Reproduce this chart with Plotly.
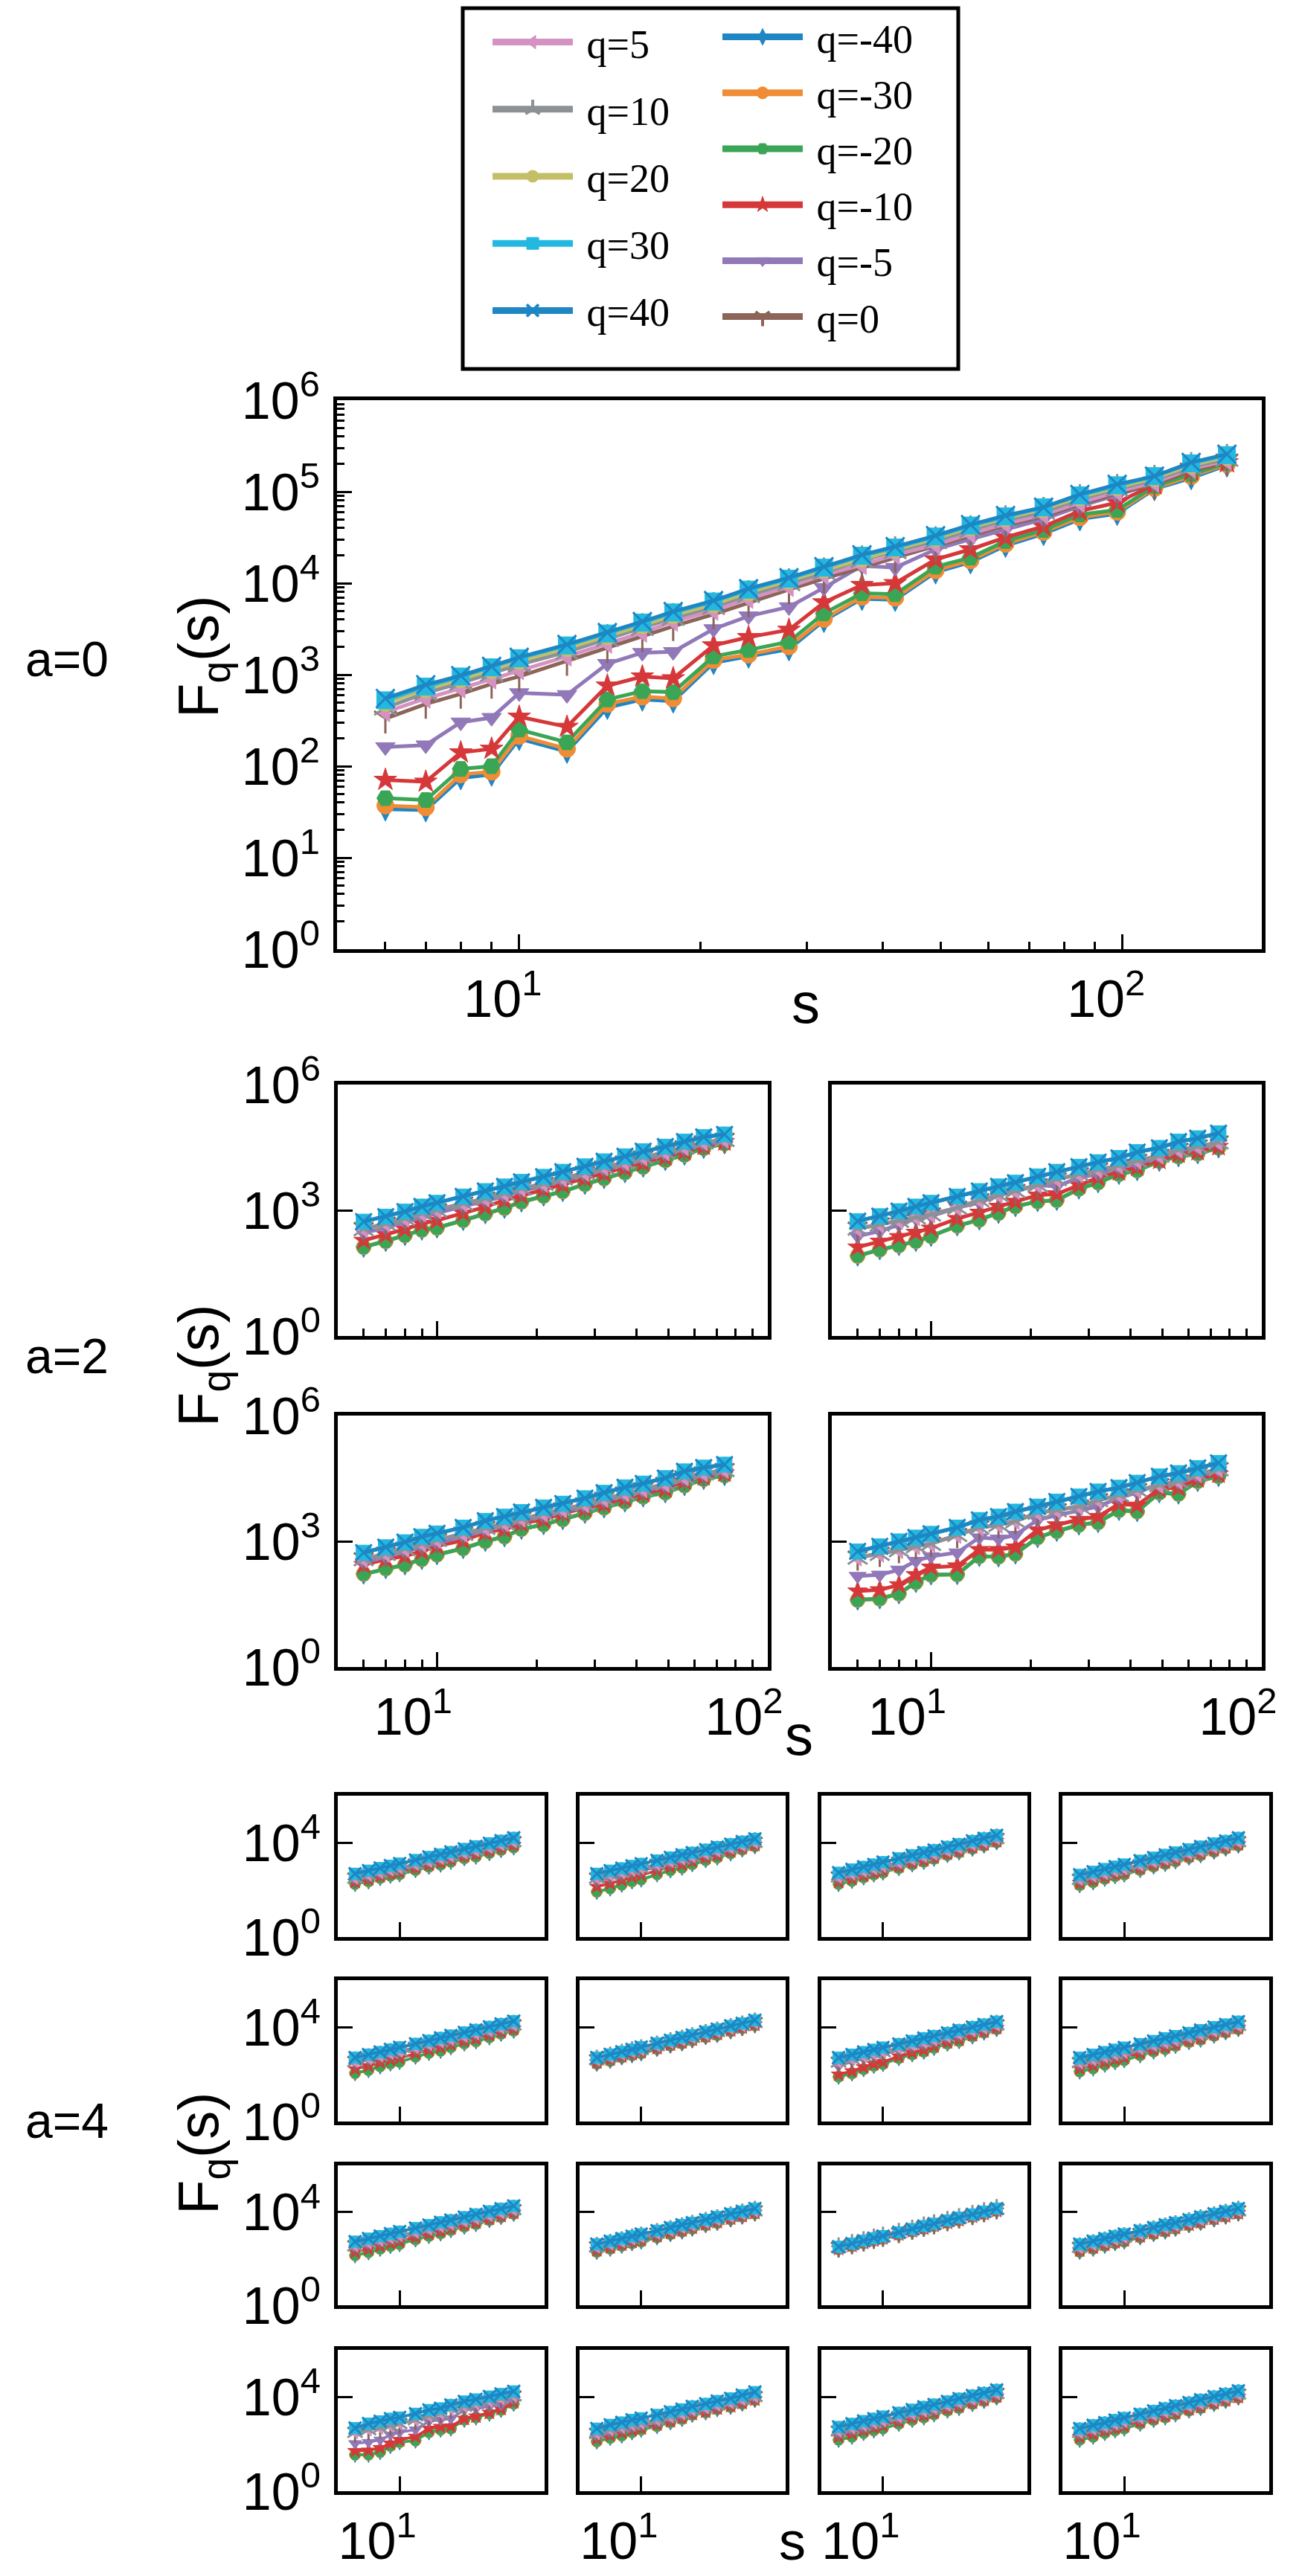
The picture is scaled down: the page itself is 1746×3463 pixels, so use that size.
import plotly.graph_objects as go

W, H = 1746, 3463

Q = [-40, -30, -20, -10, -5, 0, 5, 10, 20, 30, 40]
COLOR = {-40: "#1f86c4", -30: "#f08c35", -20: "#3aa655", -10: "#d6383a", -5: "#9178b9",
         0: "#8c6458", 5: "#d492c2", 10: "#8c9196", 20: "#c4bf66", 30: "#22b8e0", 40: "#1f86c4"}
SYMBOL = {-40: "diamond-tall", -30: "circle", -20: "hexagon2", -10: "star", -5: "triangle-down",
          0: "y-down", 5: "triangle-left", 10: "y-up", 20: "circle", 30: "square", 40: "x-thin"}
LINE_SYMBOLS = {"y-down", "y-up", "x-thin"}

# scale s (shared by all panels, the small ones stop earlier)
S = [6, 7, 8, 9, 10, 12, 14, 16, 18, 21, 24, 28, 32, 37, 42, 49, 56, 64, 74, 85, 98, 113, 130, 149]
S_A2 = S[:19]
S_A4 = S[:14]

# ---- a=0, log10 F_q(s) ----
A0_Q40 = [2.74, 2.89, 2.99, 3.09, 3.19, 3.33, 3.46, 3.58, 3.69, 3.81, 3.94, 4.06, 4.18, 4.31, 4.40, 4.52, 4.64, 4.74, 4.83, 4.97, 5.08, 5.17, 5.32, 5.41]
A0_Q30 = [2.72, 2.87, 2.98, 3.08, 3.18, 3.32, 3.45, 3.57, 3.68, 3.80, 3.93, 4.05, 4.17, 4.30, 4.39, 4.51, 4.63, 4.73, 4.83, 4.96, 5.07, 5.17, 5.31, 5.40]
A0_Q20 = [2.69, 2.84, 2.95, 3.05, 3.15, 3.29, 3.42, 3.54, 3.65, 3.77, 3.90, 4.03, 4.15, 4.27, 4.37, 4.49, 4.61, 4.71, 4.81, 4.94, 5.05, 5.15, 5.29, 5.38]
A0_Q10 = [2.64, 2.80, 2.91, 3.01, 3.11, 3.25, 3.39, 3.51, 3.62, 3.74, 3.87, 4.00, 4.12, 4.25, 4.35, 4.46, 4.58, 4.69, 4.78, 4.92, 5.03, 5.13, 5.27, 5.36]
A0_Q5 = [2.59, 2.74, 2.85, 2.95, 3.05, 3.20, 3.34, 3.46, 3.58, 3.70, 3.83, 3.96, 4.09, 4.20, 4.31, 4.42, 4.54, 4.65, 4.75, 4.88, 5.00, 5.10, 5.25, 5.34]
A0_Q0 = [2.52, 2.68, 2.79, 2.90, 2.98, 3.15, 3.29, 3.41, 3.53, 3.66, 3.79, 3.93, 4.05, 4.17, 4.28, 4.40, 4.52, 4.63, 4.73, 4.86, 4.98, 5.08, 5.23, 5.33]
A0_QM5 = [2.21, 2.23, 2.48, 2.53, 2.80, 2.78, 3.12, 3.24, 3.25, 3.50, 3.64, 3.74, 3.95, 4.19, 4.17, 4.37, 4.48, 4.59, 4.70, 4.84, 4.96, 5.09, 5.25, 5.34]
A0_QM10 = [1.85, 1.83, 2.15, 2.19, 2.54, 2.43, 2.88, 2.98, 2.96, 3.32, 3.41, 3.49, 3.79, 3.98, 4.00, 4.26, 4.37, 4.50, 4.62, 4.79, 4.88, 5.08, 5.23, 5.32]
A0_QM20 = [1.65, 1.63, 1.97, 2.00, 2.40, 2.26, 2.73, 2.82, 2.81, 3.20, 3.27, 3.36, 3.67, 3.89, 3.88, 4.18, 4.28, 4.46, 4.58, 4.75, 4.80, 5.06, 5.19, 5.31]
A0_QM30 = [1.57, 1.55, 1.91, 1.94, 2.33, 2.19, 2.68, 2.76, 2.74, 3.16, 3.22, 3.31, 3.61, 3.85, 3.84, 4.14, 4.25, 4.43, 4.56, 4.72, 4.78, 5.04, 5.17, 5.30]
A0_QM40 = [1.53, 1.52, 1.87, 1.91, 2.30, 2.16, 2.64, 2.73, 2.71, 3.13, 3.20, 3.28, 3.59, 3.83, 3.82, 4.12, 4.23, 4.41, 4.54, 4.70, 4.76, 5.03, 5.15, 5.29]

# ---- a=2, rows: q=20..40 / q=0..10 / q=-5 / q=-10 / q=-20..-40 ----
A2_TL = [
    [2.73, 2.85, 2.97, 3.09, 3.18, 3.33, 3.46, 3.57, 3.68, 3.80, 3.92, 4.05, 4.17, 4.29, 4.41, 4.52, 4.64, 4.75, 4.81],
    [2.55, 2.68, 2.80, 2.92, 3.00, 3.16, 3.28, 3.40, 3.52, 3.63, 3.76, 3.89, 4.02, 4.14, 4.26, 4.38, 4.50, 4.62, 4.68],
    [2.46, 2.58, 2.72, 2.84, 2.93, 3.09, 3.22, 3.33, 3.46, 3.58, 3.70, 3.84, 3.96, 4.08, 4.21, 4.33, 4.45, 4.57, 4.64],
    [2.28, 2.42, 2.55, 2.68, 2.76, 2.93, 3.08, 3.24, 3.35, 3.50, 3.61, 3.76, 3.88, 4.01, 4.13, 4.27, 4.40, 4.53, 4.63],
    [2.12, 2.26, 2.40, 2.53, 2.58, 2.76, 2.92, 3.05, 3.20, 3.34, 3.45, 3.62, 3.76, 3.90, 4.03, 4.19, 4.32, 4.48, 4.59],
]
A2_TR = [
    [2.74, 2.86, 2.98, 3.09, 3.18, 3.33, 3.46, 3.57, 3.66, 3.81, 3.92, 4.04, 4.15, 4.25, 4.39, 4.49, 4.64, 4.72, 4.84],
    [2.56, 2.66, 2.75, 2.83, 2.90, 3.06, 3.24, 3.36, 3.46, 3.60, 3.74, 3.86, 3.97, 4.06, 4.18, 4.30, 4.44, 4.52, 4.62],
    [2.38, 2.50, 2.65, 2.80, 2.86, 3.06, 3.18, 3.36, 3.45, 3.60, 3.57, 3.78, 3.86, 4.01, 4.10, 4.28, 4.43, 4.49, 4.61],
    [2.12, 2.26, 2.37, 2.47, 2.57, 2.80, 2.95, 3.09, 3.21, 3.36, 3.39, 3.60, 3.78, 3.92, 4.03, 4.19, 4.34, 4.40, 4.52],
    [1.91, 2.06, 2.16, 2.26, 2.38, 2.63, 2.77, 2.93, 3.09, 3.21, 3.24, 3.51, 3.66, 3.86, 3.95, 4.17, 4.28, 4.35, 4.49],
]
A2_BL = [
    [2.73, 2.86, 2.98, 3.11, 3.19, 3.33, 3.49, 3.59, 3.70, 3.81, 3.90, 4.03, 4.16, 4.29, 4.38, 4.51, 4.67, 4.76, 4.83],
    [2.57, 2.70, 2.82, 2.94, 3.03, 3.18, 3.32, 3.43, 3.54, 3.66, 3.76, 3.88, 4.01, 4.14, 4.24, 4.37, 4.52, 4.62, 4.70],
    [2.50, 2.62, 2.75, 2.87, 2.95, 3.12, 3.26, 3.37, 3.48, 3.60, 3.70, 3.83, 3.96, 4.09, 4.19, 4.32, 4.48, 4.58, 4.66],
    [2.44, 2.57, 2.65, 2.76, 2.89, 3.02, 3.21, 3.29, 3.43, 3.52, 3.67, 3.78, 3.89, 4.03, 4.14, 4.25, 4.44, 4.54, 4.63],
    [2.22, 2.35, 2.44, 2.57, 2.68, 2.83, 3.00, 3.11, 3.29, 3.40, 3.52, 3.67, 3.80, 3.94, 4.06, 4.16, 4.33, 4.48, 4.57],
]
A2_BR = [
    [2.76, 2.88, 3.00, 3.09, 3.18, 3.33, 3.51, 3.59, 3.71, 3.83, 3.95, 4.07, 4.19, 4.28, 4.40, 4.55, 4.63, 4.75, 4.87],
    [2.61, 2.70, 2.79, 2.88, 2.94, 3.15, 3.33, 3.39, 3.48, 3.68, 3.74, 3.83, 3.98, 4.10, 4.22, 4.34, 4.43, 4.60, 4.72],
    [2.17, 2.20, 2.32, 2.53, 2.64, 2.73, 3.09, 3.06, 3.15, 3.51, 3.62, 3.74, 3.83, 4.04, 4.16, 4.37, 4.40, 4.55, 4.69],
    [1.81, 1.84, 1.96, 2.20, 2.38, 2.41, 2.80, 2.80, 2.86, 3.27, 3.39, 3.52, 3.59, 3.89, 3.86, 4.25, 4.28, 4.49, 4.60],
    [1.60, 1.63, 1.75, 2.02, 2.20, 2.21, 2.64, 2.63, 2.70, 3.09, 3.24, 3.39, 3.45, 3.74, 3.71, 4.16, 4.13, 4.43, 4.55],
]

# ---- a=4, same row layout, 4x4 panels ----
A4_R1C1 = [
    [2.69, 2.82, 2.93, 3.03, 3.12, 3.27, 3.40, 3.51, 3.61, 3.74, 3.85, 3.98, 4.09, 4.21],
    [2.50, 2.63, 2.74, 2.85, 2.94, 3.09, 3.22, 3.34, 3.44, 3.57, 3.68, 3.81, 3.93, 4.05],
    [2.42, 2.55, 2.67, 2.77, 2.86, 3.02, 3.16, 3.27, 3.37, 3.51, 3.62, 3.76, 3.87, 4.00],
    [2.35, 2.46, 2.60, 2.71, 2.77, 2.95, 3.09, 3.18, 3.30, 3.45, 3.53, 3.68, 3.80, 3.92],
    [2.25, 2.36, 2.50, 2.60, 2.66, 2.84, 2.98, 3.07, 3.19, 3.34, 3.41, 3.56, 3.69, 3.80],
]
A4_R1C2 = [
    [2.69, 2.82, 2.92, 3.02, 3.11, 3.25, 3.38, 3.49, 3.58, 3.71, 3.82, 3.94, 4.05, 4.17],
    [2.50, 2.63, 2.74, 2.84, 2.93, 3.08, 3.21, 3.32, 3.42, 3.55, 3.66, 3.79, 3.90, 4.02],
    [2.36, 2.50, 2.60, 2.73, 2.82, 2.96, 3.12, 3.23, 3.32, 3.48, 3.59, 3.71, 3.85, 3.98],
    [2.14, 2.27, 2.42, 2.55, 2.63, 2.82, 2.98, 3.08, 3.22, 3.38, 3.48, 3.65, 3.79, 3.92],
    [1.92, 2.06, 2.22, 2.36, 2.44, 2.66, 2.83, 2.94, 3.09, 3.26, 3.37, 3.55, 3.71, 3.85],
]
A4_R1C3 = [
    [2.73, 2.87, 2.98, 3.08, 3.18, 3.34, 3.47, 3.59, 3.69, 3.83, 3.94, 4.08, 4.19, 4.32],
    [2.55, 2.69, 2.81, 2.91, 3.01, 3.17, 3.31, 3.43, 3.53, 3.67, 3.79, 3.93, 4.05, 4.18],
    [2.45, 2.59, 2.70, 2.83, 2.92, 3.08, 3.24, 3.35, 3.45, 3.61, 3.72, 3.86, 3.99, 4.12],
    [2.35, 2.48, 2.62, 2.75, 2.83, 3.01, 3.17, 3.27, 3.39, 3.55, 3.66, 3.82, 3.94, 4.08],
    [2.25, 2.38, 2.53, 2.65, 2.73, 2.92, 3.08, 3.19, 3.32, 3.48, 3.59, 3.75, 3.88, 4.02],
]
A4_R1C4 = [
    [2.64, 2.77, 2.89, 2.99, 3.08, 3.24, 3.37, 3.49, 3.59, 3.72, 3.84, 3.97, 4.08, 4.21],
    [2.45, 2.59, 2.70, 2.81, 2.90, 3.06, 3.20, 3.31, 3.42, 3.55, 3.67, 3.81, 3.92, 4.05],
    [2.38, 2.52, 2.63, 2.75, 2.84, 2.99, 3.14, 3.25, 3.35, 3.50, 3.61, 3.74, 3.87, 4.00],
    [2.30, 2.43, 2.56, 2.68, 2.75, 2.93, 3.08, 3.18, 3.30, 3.45, 3.55, 3.70, 3.82, 3.95],
    [2.20, 2.32, 2.47, 2.58, 2.65, 2.84, 2.99, 3.10, 3.21, 3.37, 3.47, 3.62, 3.75, 3.88],
]
A4_R2C1 = [
    [2.71, 2.84, 2.95, 3.06, 3.15, 3.30, 3.43, 3.55, 3.65, 3.78, 3.89, 4.02, 4.14, 4.26],
    [2.55, 2.68, 2.79, 2.90, 2.99, 3.14, 3.27, 3.39, 3.49, 3.62, 3.73, 3.86, 3.98, 4.10],
    [2.50, 2.63, 2.72, 2.85, 2.94, 3.06, 3.22, 3.33, 3.40, 3.56, 3.66, 3.78, 3.91, 4.02],
    [2.23, 2.36, 2.51, 2.62, 2.69, 2.90, 3.05, 3.14, 3.28, 3.43, 3.52, 3.69, 3.82, 3.95],
    [2.05, 2.18, 2.34, 2.46, 2.53, 2.75, 2.91, 3.00, 3.15, 3.31, 3.40, 3.57, 3.72, 3.85],
]
A4_R2C2 = [
    [2.71, 2.85, 2.96, 3.06, 3.16, 3.32, 3.45, 3.57, 3.67, 3.81, 3.92, 4.06, 4.17, 4.30],
    [2.62, 2.75, 2.87, 2.97, 3.06, 3.22, 3.36, 3.47, 3.57, 3.71, 3.82, 3.96, 4.07, 4.20],
    [2.58, 2.71, 2.82, 2.94, 3.02, 3.17, 3.33, 3.43, 3.52, 3.68, 3.78, 3.91, 4.04, 4.16],
    [2.52, 2.65, 2.78, 2.88, 2.96, 3.13, 3.28, 3.37, 3.49, 3.63, 3.73, 3.88, 4.00, 4.12],
    [2.45, 2.57, 2.72, 2.81, 2.89, 3.08, 3.22, 3.31, 3.44, 3.58, 3.67, 3.83, 3.96, 4.08],
]
A4_R2C3 = [
    [2.71, 2.84, 2.95, 3.05, 3.14, 3.29, 3.42, 3.54, 3.63, 3.76, 3.88, 4.01, 4.12, 4.24],
    [2.52, 2.65, 2.77, 2.87, 2.96, 3.12, 3.26, 3.37, 3.47, 3.61, 3.72, 3.86, 3.97, 4.10],
    [2.34, 2.55, 2.66, 2.78, 2.86, 3.02, 3.16, 3.24, 3.36, 3.52, 3.62, 3.79, 3.91, 4.05],
    [2.00, 2.14, 2.31, 2.45, 2.53, 2.77, 2.93, 3.04, 3.20, 3.37, 3.48, 3.68, 3.83, 3.98],
    [1.90, 2.04, 2.22, 2.36, 2.44, 2.69, 2.85, 2.96, 3.12, 3.30, 3.41, 3.61, 3.77, 3.92],
]
A4_R2C4 = [
    [2.71, 2.84, 2.95, 3.05, 3.14, 3.29, 3.42, 3.54, 3.63, 3.76, 3.88, 4.01, 4.12, 4.24],
    [2.50, 2.63, 2.75, 2.85, 2.94, 3.10, 3.24, 3.35, 3.45, 3.59, 3.70, 3.84, 3.95, 4.08],
    [2.40, 2.54, 2.65, 2.77, 2.86, 3.01, 3.16, 3.26, 3.38, 3.52, 3.62, 3.77, 3.89, 4.02],
    [2.25, 2.38, 2.53, 2.65, 2.72, 2.92, 3.07, 3.16, 3.29, 3.45, 3.55, 3.72, 3.84, 3.98],
    [2.12, 2.25, 2.41, 2.52, 2.60, 2.81, 2.97, 3.07, 3.21, 3.37, 3.47, 3.64, 3.78, 3.92],
]
A4_R3C1 = [
    [2.73, 2.86, 2.97, 3.07, 3.16, 3.31, 3.44, 3.56, 3.65, 3.78, 3.90, 4.03, 4.14, 4.26],
    [2.55, 2.68, 2.79, 2.90, 2.99, 3.14, 3.27, 3.39, 3.49, 3.62, 3.73, 3.86, 3.98, 4.10],
    [2.45, 2.59, 2.69, 2.81, 2.90, 3.05, 3.20, 3.31, 3.40, 3.55, 3.66, 3.79, 3.91, 4.04],
    [2.28, 2.41, 2.55, 2.67, 2.74, 2.93, 3.08, 3.18, 3.31, 3.46, 3.56, 3.72, 3.84, 3.98],
    [2.14, 2.27, 2.42, 2.54, 2.62, 2.82, 2.97, 3.08, 3.22, 3.37, 3.48, 3.65, 3.78, 3.92],
]
A4_R3C2 = [
    [2.62, 2.75, 2.86, 2.96, 3.05, 3.20, 3.33, 3.45, 3.54, 3.67, 3.79, 3.92, 4.03, 4.15],
    [2.50, 2.63, 2.74, 2.85, 2.94, 3.09, 3.22, 3.34, 3.44, 3.57, 3.68, 3.81, 3.93, 4.05],
    [2.44, 2.57, 2.68, 2.80, 2.88, 3.03, 3.18, 3.28, 3.39, 3.53, 3.63, 3.77, 3.88, 4.01],
    [2.37, 2.50, 2.62, 2.73, 2.81, 2.98, 3.12, 3.22, 3.34, 3.48, 3.58, 3.73, 3.84, 3.97],
    [2.29, 2.42, 2.55, 2.66, 2.73, 2.91, 3.05, 3.16, 3.28, 3.43, 3.53, 3.68, 3.80, 3.93],
]
A4_R3C3 = [
    [2.51, 2.65, 2.77, 2.88, 2.97, 3.13, 3.27, 3.40, 3.50, 3.64, 3.76, 3.90, 4.02, 4.15],
    [2.48, 2.62, 2.74, 2.85, 2.94, 3.10, 3.24, 3.37, 3.47, 3.61, 3.73, 3.87, 3.99, 4.12],
    [2.46, 2.60, 2.71, 2.83, 2.92, 3.07, 3.22, 3.33, 3.44, 3.58, 3.69, 3.84, 3.96, 4.09],
    [2.43, 2.56, 2.69, 2.79, 2.88, 3.05, 3.19, 3.30, 3.42, 3.55, 3.66, 3.81, 3.93, 4.06],
    [2.40, 2.53, 2.66, 2.77, 2.85, 3.02, 3.16, 3.28, 3.39, 3.53, 3.64, 3.79, 3.91, 4.04],
]
A4_R3C4 = [
    [2.62, 2.75, 2.86, 2.96, 3.05, 3.20, 3.33, 3.45, 3.54, 3.67, 3.79, 3.92, 4.03, 4.15],
    [2.48, 2.61, 2.73, 2.83, 2.92, 3.08, 3.21, 3.33, 3.43, 3.56, 3.68, 3.81, 3.92, 4.05],
    [2.42, 2.55, 2.66, 2.78, 2.86, 3.01, 3.16, 3.26, 3.37, 3.51, 3.61, 3.76, 3.87, 4.00],
    [2.36, 2.49, 2.61, 2.72, 2.80, 2.97, 3.11, 3.21, 3.33, 3.47, 3.57, 3.72, 3.83, 3.96],
    [2.29, 2.42, 2.55, 2.66, 2.73, 2.91, 3.05, 3.16, 3.28, 3.43, 3.53, 3.68, 3.80, 3.93],
]
A4_R4C1 = [
    [2.68, 2.87, 2.97, 3.08, 3.13, 3.29, 3.45, 3.52, 3.66, 3.81, 3.90, 4.02, 4.13, 4.24],
    [2.50, 2.61, 2.68, 2.78, 2.87, 3.03, 3.20, 3.31, 3.50, 3.60, 3.71, 3.83, 3.94, 4.04],
    [2.03, 2.08, 2.18, 2.39, 2.50, 2.61, 2.97, 3.03, 3.08, 3.45, 3.50, 3.60, 3.66, 3.87],
    [1.71, 1.73, 1.84, 2.03, 2.18, 2.32, 2.66, 2.74, 2.76, 3.08, 3.18, 3.34, 3.50, 3.79],
    [1.55, 1.55, 1.66, 1.92, 2.08, 2.15, 2.50, 2.61, 2.66, 3.03, 3.13, 3.29, 3.45, 3.71],
]
A4_R4C2 = [
    [2.66, 2.82, 2.92, 3.03, 3.10, 3.24, 3.37, 3.48, 3.60, 3.71, 3.83, 3.94, 4.08, 4.21],
    [2.45, 2.61, 2.71, 2.82, 2.89, 3.03, 3.16, 3.29, 3.45, 3.55, 3.66, 3.76, 3.90, 4.02],
    [2.32, 2.47, 2.61, 2.68, 2.76, 2.92, 3.06, 3.18, 3.34, 3.45, 3.58, 3.69, 3.81, 3.94],
    [2.24, 2.39, 2.50, 2.61, 2.68, 2.85, 2.99, 3.13, 3.29, 3.39, 3.52, 3.62, 3.76, 3.90],
    [2.11, 2.26, 2.36, 2.50, 2.61, 2.76, 2.92, 3.06, 3.24, 3.34, 3.48, 3.58, 3.71, 3.87],
]
A4_R4C3 = [
    [2.73, 2.86, 2.98, 3.08, 3.17, 3.33, 3.46, 3.58, 3.68, 3.81, 3.93, 4.06, 4.17, 4.30],
    [2.55, 2.69, 2.80, 2.91, 3.00, 3.16, 3.30, 3.41, 3.52, 3.65, 3.77, 3.91, 4.02, 4.15],
    [2.42, 2.56, 2.67, 2.80, 2.89, 3.04, 3.20, 3.31, 3.41, 3.57, 3.67, 3.82, 3.95, 4.08],
    [2.32, 2.45, 2.60, 2.71, 2.79, 2.97, 3.13, 3.23, 3.35, 3.51, 3.61, 3.77, 3.89, 4.03],
    [2.18, 2.31, 2.47, 2.58, 2.66, 2.86, 3.02, 3.13, 3.26, 3.42, 3.53, 3.70, 3.83, 3.97],
]
A4_R4C4 = [
    [2.66, 2.80, 2.91, 3.02, 3.11, 3.27, 3.41, 3.52, 3.63, 3.76, 3.88, 4.02, 4.13, 4.26],
    [2.50, 2.64, 2.76, 2.86, 2.96, 3.12, 3.25, 3.37, 3.48, 3.62, 3.73, 3.87, 3.99, 4.12],
    [2.40, 2.54, 2.65, 2.78, 2.87, 3.02, 3.18, 3.29, 3.40, 3.55, 3.65, 3.81, 3.93, 4.06],
    [2.30, 2.43, 2.58, 2.69, 2.77, 2.95, 3.11, 3.21, 3.33, 3.49, 3.59, 3.75, 3.87, 4.01],
    [2.18, 2.31, 2.47, 2.58, 2.66, 2.86, 3.02, 3.13, 3.26, 3.42, 3.53, 3.70, 3.83, 3.97],
]

TICKFONT = dict(family="Liberation Sans, Arial, sans-serif", size=70, color="black")
TEXTFONT = "Liberation Sans, Arial, sans-serif"


def sup(k):
    return "10<sup>%d</sup>" % k


def rows_to_q(rows):
    hi, mid, m5, m10, lo = rows
    return {-40: lo, -30: lo, -20: lo, -10: m10, -5: m5, 0: mid, 5: mid, 10: mid, 20: hi, 30: hi, 40: hi}


fig = go.Figure()
panels = []

# big panel, a=0
panels.append(dict(
    box=(445, 1688, 530, 1268), xr=[0.698, 2.231], s=S,
    series={-40: A0_QM40, -30: A0_QM30, -20: A0_QM20, -10: A0_QM10, -5: A0_QM5, 0: A0_Q0,
            5: A0_Q5, 10: A0_Q10, 20: A0_Q20, 30: A0_Q30, 40: A0_Q40},
    ydec=list(range(7)), xdec=[1, 2], xminor=[6, 7, 8, 9] + [20, 30, 40, 50, 60, 70, 80, 90],
    yminor=[m * 10 ** k for k in range(6) for m in range(2, 10)],
    xlab=True, ylab=True, ms=23, lw=5, shift=-22,
))

# a=2 panels
A2_COLS = [(446, 1024), (1110, 1688)]
A2_ROWS = [(1450, 1788), (1895, 2233)]
for r, row in enumerate([[A2_TL, A2_TR], [A2_BL, A2_BR]]):
    for c, rows in enumerate(row):
        panels.append(dict(
            box=(A2_COLS[c][0], A2_COLS[c][1], A2_ROWS[r][0], A2_ROWS[r][1]), xr=[0.70, 2.0], s=S_A2,
            series=rows_to_q(rows), ydec=[0, 3, 6], xdec=[1, 2],
            xminor=[6, 7, 8, 9] + [20, 30, 40, 50, 60, 70, 80, 90], yminor=None,
            xlab=(r == 1), ylab=(c == 0), ms=20, lw=5, shift=-32,
        ))

# a=4 panels
A4_COLS = [(446, 724), (771, 1048), (1096, 1373), (1420, 1698)]
A4_ROWS = [(2406, 2596), (2654, 2844), (2903, 3091), (3151, 3341)]
A4_GRID = [
    [A4_R1C1, A4_R1C2, A4_R1C3, A4_R1C4],
    [A4_R2C1, A4_R2C2, A4_R2C3, A4_R2C4],
    [A4_R3C1, A4_R3C2, A4_R3C3, A4_R3C4],
    [A4_R4C1, A4_R4C2, A4_R4C3, A4_R4C4],
]
for r, row in enumerate(A4_GRID):
    for c, rows in enumerate(row):
        panels.append(dict(
            box=(A4_COLS[c][0], A4_COLS[c][1], A4_ROWS[r][0], A4_ROWS[r][1]), xr=[0.692, 1.722], s=S_A4,
            series=rows_to_q(rows), ydec=[0, 4], xdec=[1], xminor=None, yminor=None,
            xlab=(r == 3), ylab=(c == 0), ms=15, lw=3.5, shift=-30,
        ))

layout_axes = {}
for i, p in enumerate(panels, start=1):
    x0, x1, y0, y1 = p["box"]
    xa = "xaxis" if i == 1 else "xaxis%d" % i
    ya = "yaxis" if i == 1 else "yaxis%d" % i
    xref = "x" if i == 1 else "x%d" % i
    yref = "y" if i == 1 else "y%d" % i
    common = dict(showline=True, linewidth=5, linecolor="black", mirror=True, showgrid=False,
                  zeroline=False, ticks="inside", ticklen=20, tickwidth=3, tickcolor="black",
                  tickfont=TICKFONT)
    xax = dict(common, type="log", domain=[x0 / W, x1 / W], range=p["xr"], anchor=yref,
               tickmode="array", tickvals=[10 ** k for k in p["xdec"]],
               ticktext=[sup(k) for k in p["xdec"]], showticklabels=p["xlab"],
               ticklabelshift=p["shift"], ticklabelstandoff=2)
    if p["xminor"]:
        xax["minor"] = dict(ticks="inside", ticklen=10, tickwidth=3, tickcolor="black",
                            tickmode="array", tickvals=p["xminor"], showgrid=False)
    yax = dict(common, type="log", domain=[1 - y1 / H, 1 - y0 / H], range=[0, 6], anchor=xref,
               tickmode="array", tickvals=[10 ** k for k in p["ydec"]],
               ticktext=[sup(k) for k in p["ydec"]], showticklabels=p["ylab"],
               ticklabelstandoff=4)
    if p["yminor"]:
        yax["minor"] = dict(ticks="inside", ticklen=10, tickwidth=3, tickcolor="black",
                            tickmode="array", tickvals=p["yminor"], showgrid=False)
    layout_axes[xa] = xax
    layout_axes[ya] = yax

    for q in Q:
        vals = p["series"][q]
        sym = SYMBOL[q]
        col = COLOR[q]
        if sym in LINE_SYMBOLS:
            mk = dict(symbol=sym, size=p["ms"] + 2, color=col, line=dict(color=col, width=3))
        else:
            mk = dict(symbol=sym, size=p["ms"], color=col, line=dict(color=col, width=1))
        fig.add_trace(go.Scatter(
            x=p["s"][:len(vals)], y=[10 ** v for v in vals], mode="lines+markers",
            line=dict(color=col, width=p["lw"]), marker=mk, name="q=%d" % q,
            legendgroup="q%d" % q, showlegend=False, xaxis=xref, yaxis=yref,
        ))

# legend-only entries (no data) so the legend can use its own thick line and big marker
for q in Q:
    sym = SYMBOL[q]
    col = COLOR[q]
    if sym in LINE_SYMBOLS:
        mk = dict(symbol=sym, size=16, color=col, line=dict(color=col, width=4))
    else:
        mk = dict(symbol=sym, size=16, color=col, line=dict(color=col, width=1))
    fig.add_trace(go.Scatter(
        x=[None], y=[None], mode="lines+markers", line=dict(color=col, width=9), marker=mk,
        name="\u00a0q=%d" % q, legendgroup="q%d" % q, showlegend=True,
        legend="legend" if q > 0 else "legend2", xaxis="x", yaxis="y", hoverinfo="skip",
    ))

fig.update_layout(**layout_axes)

LEGFONT = dict(family="Liberation Serif, Times New Roman, serif", size=54, color="black")
fig.update_layout(
    width=W, height=H, margin=dict(l=0, r=0, t=0, b=0, autoexpand=False),
    paper_bgcolor="white", plot_bgcolor="white",
    legend=dict(x=649 / W, y=1 - 7 / H, xanchor="left", yanchor="top", font=LEGFONT,
                bgcolor="rgba(0,0,0,0)", borderwidth=0, itemwidth=108, tracegroupgap=17,
                traceorder="grouped", itemsizing="trace"),
    legend2=dict(x=958 / W, y=1.0, xanchor="left", yanchor="top", font=LEGFONT,
                 bgcolor="rgba(0,0,0,0)", borderwidth=0, itemwidth=108, tracegroupgap=2,
                 traceorder="grouped", itemsizing="trace"),
)

fig.add_shape(type="rect", xref="paper", yref="paper", x0=614 / W, x1=1280 / W,
              y0=1 - 488 / H, y1=1 - 3 / H, line=dict(color="black", width=5))

ann = []
for txt, yc in [("a=0", 878), ("a=2", 1815), ("a=4", 2843)]:
    ann.append(dict(text=txt, x=82 / W, y=1 - yc / H, xref="paper", yref="paper", showarrow=False,
                    xanchor="center", yanchor="middle", font=dict(family=TEXTFONT, size=66, color="black")))
for yc in [875, 1828, 2887]:
    ann.append(dict(text="F<sub>q</sub>(s)", x=264 / W, y=1 - yc / H, xref="paper", yref="paper",
                    showarrow=False, textangle=-90, xanchor="center", yanchor="middle",
                    font=dict(family=TEXTFONT, size=76, color="black")))
for xc, yc, fs in [(1075, 1340, 76), (1066, 2324, 76), (1057, 3408, 72)]:
    ann.append(dict(text="s", x=xc / W, y=1 - yc / H, xref="paper", yref="paper", showarrow=False,
                    xanchor="center", yanchor="middle", font=dict(family=TEXTFONT, size=fs, color="black")))
fig.update_layout(annotations=ann)

fig.write_html("out.html")
